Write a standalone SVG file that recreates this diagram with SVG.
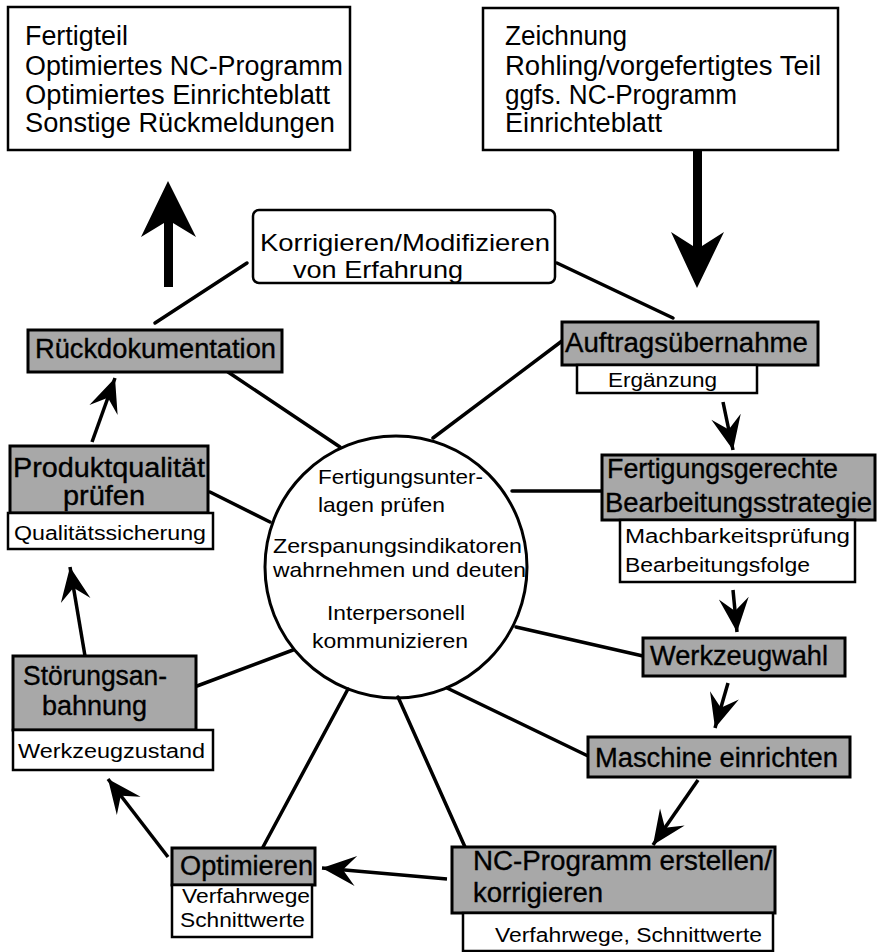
<svg xmlns="http://www.w3.org/2000/svg" width="882" height="952" viewBox="0 0 882 952">
  <defs>
    <style>
      text { font-family: "Liberation Sans", Arial, Helvetica, sans-serif; fill: #000; }
      .big { font-size: 27px; }
      .mid { font-size: 24px; }
      .lbl { font-size: 27px; stroke: #000; stroke-width: 0.35; }
      .sub { font-size: 20px; }
      .circ { font-size: 21px; }
      .box { fill: #fff; stroke: #000; stroke-width: 2.5; }
      .gray { fill: #a8a8a8; stroke: #000; stroke-width: 3; }
      .wbox { fill: #fff; stroke: #000; stroke-width: 2.5; }
      .link { fill: none; stroke: #000; stroke-width: 3.5; stroke-linecap: round; }
      .flow { fill: none; stroke: #000; stroke-width: 3.5; marker-end: url(#head); }
      .fat { fill: #000; stroke: none; }
    </style>
    <marker id="head" markerUnits="userSpaceOnUse" markerWidth="40" markerHeight="36" viewBox="-38 -18 40 36" refX="0" refY="0" orient="auto">
      <path d="M0,0 L-34,-15 L-21,0 L-34,15 Z" fill="#000"/>
    </marker>
  </defs>

  <rect width="882" height="952" fill="#fff"/>

  <!-- output documents -->
  <g id="output">
    <rect class="box" x="8" y="7" width="342" height="143"/>
    <text class="big" x="25" y="45" textLength="103" lengthAdjust="spacingAndGlyphs">Fertigteil</text>
    <text class="big" x="25" y="75" textLength="318" lengthAdjust="spacingAndGlyphs">Optimiertes NC-Programm</text>
    <text class="big" x="25" y="104" textLength="305" lengthAdjust="spacingAndGlyphs">Optimiertes Einrichteblatt</text>
    <text class="big" x="25" y="132" textLength="310" lengthAdjust="spacingAndGlyphs">Sonstige Rückmeldungen</text>
  </g>

  <!-- input documents -->
  <g id="input">
    <rect class="box" x="483" y="8" width="355" height="142"/>
    <text class="big" x="505" y="45" textLength="122" lengthAdjust="spacingAndGlyphs">Zeichnung</text>
    <text class="big" x="505" y="75" textLength="316" lengthAdjust="spacingAndGlyphs">Rohling/vorgefertigtes Teil</text>
    <text class="big" x="505" y="104" textLength="232" lengthAdjust="spacingAndGlyphs">ggfs. NC-Programm</text>
    <text class="big" x="505" y="132" textLength="157" lengthAdjust="spacingAndGlyphs">Einrichteblatt</text>
  </g>

  <!-- experience feedback -->
  <g id="erfahrung">
    <rect class="box" x="253" y="210" width="302" height="73" rx="6"/>
    <text class="mid" x="260" y="251" textLength="290" lengthAdjust="spacingAndGlyphs">Korrigieren/Modifizieren</text>
    <text class="mid" x="293" y="278" textLength="170" lengthAdjust="spacingAndGlyphs">von Erfahrung</text>
  </g>

  <!-- hub -->
  <g id="kern">
    <circle cx="396" cy="567" r="131" fill="#fff" stroke="#000" stroke-width="3"/>
    <text class="circ" x="318" y="484" textLength="165" lengthAdjust="spacingAndGlyphs">Fertigungsunter-</text>
    <text class="circ" x="318" y="512" textLength="127" lengthAdjust="spacingAndGlyphs">lagen prüfen</text>
    <text class="circ" x="273" y="553" textLength="249" lengthAdjust="spacingAndGlyphs">Zerspanungsindikatoren</text>
    <text class="circ" x="273" y="577" textLength="253" lengthAdjust="spacingAndGlyphs">wahrnehmen und deuten</text>
    <text class="circ" x="327" y="620" textLength="138" lengthAdjust="spacingAndGlyphs">Interpersonell</text>
    <text class="circ" x="312" y="648" textLength="156" lengthAdjust="spacingAndGlyphs">kommunizieren</text>
  </g>

  <!-- spokes and flow arrows -->
  <g id="connectors">
    <line class="link" x1="247" y1="263" x2="155" y2="323"/>
    <line class="link" x1="557" y1="263" x2="673" y2="318"/>
    <line class="link" x1="228" y1="372" x2="340" y2="447"/>
    <line class="link" x1="433" y1="438" x2="562" y2="341"/>
    <line class="link" x1="512" y1="491" x2="602" y2="491"/>
    <line class="link" x1="210" y1="492" x2="270" y2="522"/>
    <line class="link" x1="197" y1="686" x2="293" y2="650"/>
    <line class="link" x1="516" y1="627" x2="643" y2="656"/>
    <line class="link" x1="447" y1="688" x2="588" y2="756"/>
    <line class="link" x1="398" y1="697" x2="465" y2="847"/>
    <line class="link" x1="348" y1="689" x2="263" y2="847"/>

    <line class="flow" x1="723" y1="402" x2="733" y2="450"/>
    <line class="flow" x1="733" y1="590" x2="737" y2="632"/>
    <line class="flow" x1="728" y1="683" x2="715" y2="728"/>
    <line class="flow" x1="698" y1="780" x2="653" y2="845"/>
    <line class="flow" x1="447" y1="879" x2="322" y2="868"/>
    <line class="flow" x1="168" y1="857" x2="108" y2="779"/>
    <line class="flow" x1="85" y1="656" x2="70" y2="567"/>
    <line class="flow" x1="92" y1="442" x2="115" y2="378"/>

    <path class="fat" d="M168,181 L196,237 L173,223 L173,287 L164,287 L164,223 L141,237 Z"/>
    <path class="fat" d="M693,150 L702,150 L702,246 L724,232 L697,288 L671,232 L693,246 Z"/>
  </g>

  <g id="rueckdokumentation">
    <rect class="gray" x="28" y="330" width="254" height="42"/>
    <text class="lbl" x="35" y="358" textLength="241" lengthAdjust="spacingAndGlyphs">Rückdokumentation</text>
  </g>

  <g id="auftragsuebernahme">
    <rect class="gray" x="562" y="322" width="256" height="43"/>
    <text class="lbl" x="565" y="352" textLength="243" lengthAdjust="spacingAndGlyphs">Auftragsübernahme</text>
    <rect class="wbox" x="577" y="365" width="180" height="28"/>
    <text class="sub" x="608" y="387" textLength="109" lengthAdjust="spacingAndGlyphs">Ergänzung</text>
  </g>

  <g id="strategie">
    <rect class="gray" x="602" y="455" width="273" height="65"/>
    <text class="lbl" x="607" y="478" textLength="231" lengthAdjust="spacingAndGlyphs">Fertigungsgerechte</text>
    <text class="lbl" x="605" y="512" textLength="267" lengthAdjust="spacingAndGlyphs">Bearbeitungsstrategie</text>
    <rect class="wbox" x="620" y="520" width="235" height="62"/>
    <text class="sub" x="625" y="543" textLength="225" lengthAdjust="spacingAndGlyphs">Machbarkeitsprüfung</text>
    <text class="sub" x="625" y="572" textLength="185" lengthAdjust="spacingAndGlyphs">Bearbeitungsfolge</text>
  </g>

  <g id="werkzeugwahl">
    <rect class="gray" x="643" y="638" width="202" height="38"/>
    <text class="lbl" x="650" y="665" textLength="178" lengthAdjust="spacingAndGlyphs">Werkzeugwahl</text>
  </g>

  <g id="maschine">
    <rect class="gray" x="588" y="737" width="262" height="40"/>
    <text class="lbl" x="595" y="767" textLength="243" lengthAdjust="spacingAndGlyphs">Maschine einrichten</text>
  </g>

  <g id="nc-programm">
    <rect class="gray" x="452" y="847" width="323" height="66"/>
    <text class="lbl" x="473" y="870" textLength="299" lengthAdjust="spacingAndGlyphs">NC-Programm erstellen/</text>
    <text class="lbl" x="473" y="902" textLength="130" lengthAdjust="spacingAndGlyphs">korrigieren</text>
    <rect class="wbox" x="463" y="913" width="310" height="38"/>
    <text class="sub" x="495" y="942" textLength="267" lengthAdjust="spacingAndGlyphs">Verfahrwege, Schnittwerte</text>
  </g>

  <g id="optimieren">
    <rect class="gray" x="172" y="848" width="143" height="37"/>
    <text class="lbl" x="180" y="875" textLength="133" lengthAdjust="spacingAndGlyphs">Optimieren</text>
    <rect class="wbox" x="172" y="885" width="140" height="52"/>
    <text class="sub" x="182" y="903" textLength="128" lengthAdjust="spacingAndGlyphs">Verfahrwege</text>
    <text class="sub" x="180" y="927" textLength="125" lengthAdjust="spacingAndGlyphs">Schnittwerte</text>
  </g>

  <g id="stoerungsanbahnung">
    <rect class="gray" x="13" y="656" width="183" height="74"/>
    <text class="lbl" x="23" y="685" textLength="144" lengthAdjust="spacingAndGlyphs">Störungsan-</text>
    <text class="lbl" x="42" y="715" textLength="105" lengthAdjust="spacingAndGlyphs">bahnung</text>
    <rect class="wbox" x="13" y="730" width="200" height="40"/>
    <text class="sub" x="18" y="758" textLength="187" lengthAdjust="spacingAndGlyphs">Werkzeugzustand</text>
  </g>

  <g id="produktqualitaet">
    <rect class="gray" x="10" y="446" width="198" height="67"/>
    <text class="lbl" x="13" y="477" textLength="192" lengthAdjust="spacingAndGlyphs">Produktqualität</text>
    <text class="lbl" x="63" y="505" textLength="82" lengthAdjust="spacingAndGlyphs">prüfen</text>
    <rect class="wbox" x="8" y="513" width="205" height="36"/>
    <text class="sub" x="14" y="540" textLength="192" lengthAdjust="spacingAndGlyphs">Qualitätssicherung</text>
  </g>
</svg>
